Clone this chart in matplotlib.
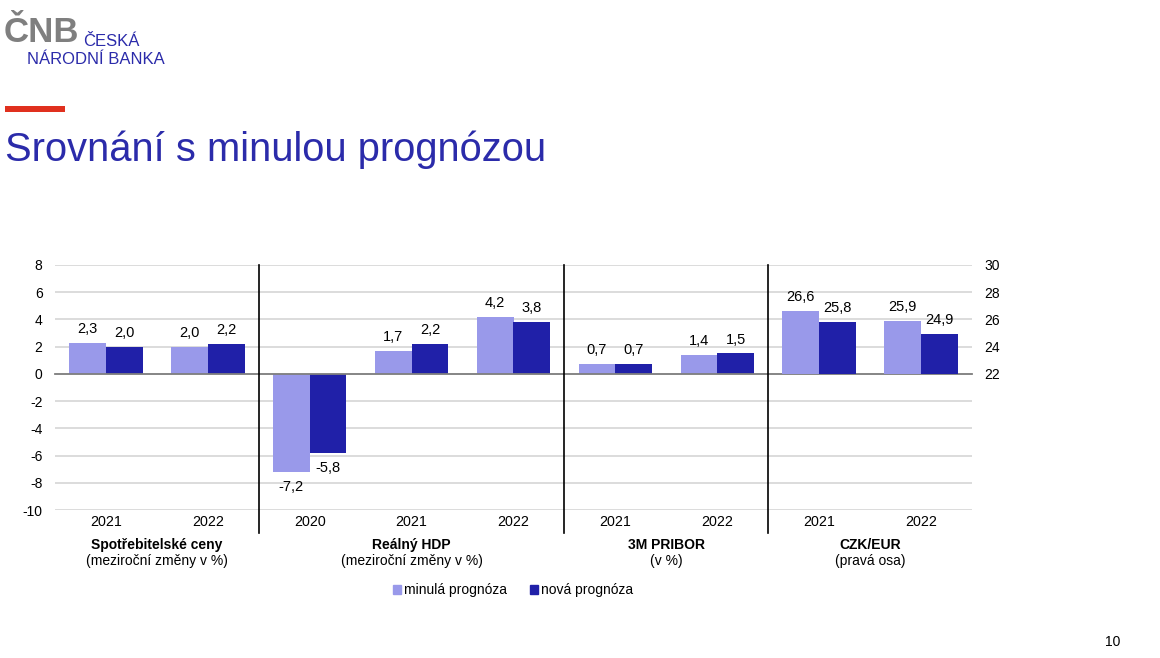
import matplotlib
matplotlib.use("Agg")
import matplotlib.pyplot as plt
import matplotlib.transforms as mtransforms
import numpy as np

plt.rcParams['font.family'] = ['Liberation Sans', 'DejaVu Sans']
plt.rcParams['axes.unicode_minus'] = False

# ---- data ----
years = ['2021', '2022', '2020', '2021', '2022', '2021', '2022', '2021', '2022']
group_of = [0, 0, 1, 1, 1, 2, 2, 3, 3]
group_names = ['Spotřebitelské ceny', 'Reálný HDP', '3M PRIBOR', 'CZK/EUR']
group_units = ['(meziroční změny v %)', '(meziroční změny v %)', '(v %)', '(pravá osa)']
minula = [2.3, 2.0, -7.2, 1.7, 4.2, 0.7, 1.4, 26.6, 25.9]
nova = [2.0, 2.2, -5.8, 2.2, 3.8, 0.7, 1.5, 25.8, 24.9]
on_right = [False, False, False, False, False, False, False, True, True]
right_base = 22
left_ticks = [-10, -8, -6, -4, -2, 0, 2, 4, 6, 8]
right_ticks = [22, 24, 26, 28, 30]
series_names = ['minulá prognóza', 'nová prognóza']

LIGHT = '#9999EA'
DARK = '#2020A8'
BLUE_TXT = '#2B2BAA'

fig = plt.figure(figsize=(11.6, 6.58), dpi=100)
fig.patch.set_facecolor('white')

# ---- header ----
fig.text(4 / 1160, 1 - 33 / 658, 'ČNB', fontsize=25, color='#7F7F7F', fontweight='bold',
         va='center', ha='left')
fig.text(83 / 1160, 1 - 42 / 658, 'ČESKÁ', fontsize=12, color=BLUE_TXT, va='center', ha='left')
fig.text(27 / 1160, 1 - 60 / 658, 'NÁRODNÍ BANKA', fontsize=12, color=BLUE_TXT, va='center', ha='left')
fig.patches.append(plt.Rectangle((5 / 1160, 1 - 112 / 658), 60 / 1160, 6 / 658,
                                 transform=fig.transFigure, color='#E0301E', lw=0))
fig.text(5 / 1160, 1 - 150 / 658, 'Srovnání s minulou prognózou', fontsize=28.7,
         color=BLUE_TXT, va='center', ha='left')
fig.text(1113 / 1160, 1 - 642 / 658, '10', fontsize=10, color='black', va='center', ha='center')

# ---- axes ----
ax = fig.add_axes([55 / 1160, 1 - 510 / 658, 917 / 1160, 245 / 658])
ax2 = ax.twinx()
n = len(years)
x = np.arange(n)
w = 0.36

ax.set_xlim(-0.5, n - 0.5)
ax.set_ylim(left_ticks[0], left_ticks[-1])
shift = right_base - 0
ax2.set_ylim(left_ticks[0] + shift, left_ticks[-1] + shift)

for a in (ax, ax2):
    for s in a.spines.values():
        s.set_visible(False)

ax.set_yticks(left_ticks)
ax.set_yticklabels([str(t) for t in left_ticks])
ax.tick_params(axis='y', length=0, pad=9, labelsize=10)
ax.yaxis.grid(True, color='#D9D9D9', lw=1.3)
ax.set_axisbelow(True)

ax2.set_yticks(right_ticks)
ax2.set_yticklabels([str(t) for t in right_ticks])
ax2.tick_params(axis='y', length=0, pad=9, labelsize=10)

ax.spines['bottom'].set_visible(True)
ax.spines['bottom'].set_position(('data', 0))
ax.spines['bottom'].set_color('#7F7F7F')
ax.spines['bottom'].set_linewidth(1.3)
ax.spines['bottom'].set_zorder(5)
ax.set_xticks(np.arange(n + 1) - 0.5)
ax.set_xticklabels([])
ax.tick_params(axis='x', direction='out', length=4, width=1.3, color='#7F7F7F')
ax2.set_xticks([])


def fmt(v):
    return f'{v:.1f}'.replace('.', ',')


for i in range(n):
    target = ax2 if on_right[i] else ax
    base = right_base if on_right[i] else 0
    for val, off, col in ((minula[i], -w / 2, LIGHT), (nova[i], w / 2, DARK)):
        target.bar(x[i] + off, val - base, width=w, bottom=base, color=col, lw=0, zorder=3)
        if val - base >= 0:
            target.annotate(fmt(val), (x[i] + off, val), xytext=(0, 5), textcoords='offset points',
                            ha='center', va='bottom', fontsize=10.5)
        else:
            target.annotate(fmt(val), (x[i] + off, val), xytext=(0, -6), textcoords='offset points',
                            ha='center', va='top', fontsize=10.5)

trans = mtransforms.blended_transform_factory(ax.transData, ax.transAxes)
# group separators
for i in range(1, n):
    if group_of[i] != group_of[i - 1]:
        ax.plot([i - 0.5, i - 0.5], [1, -23 / 245], transform=trans, color='black',
                lw=1.2, clip_on=False, zorder=6)

for i in range(n):
    ax.text(x[i], -12 / 245, years[i], transform=trans, ha='center', va='center', fontsize=10.3)

for g, (name, unit) in enumerate(zip(group_names, group_units)):
    members = [i for i in range(n) if group_of[i] == g]
    c = (members[0] + members[-1]) / 2
    ax.text(c, -35 / 245, name, transform=trans, ha='center', va='center', fontsize=10, fontweight='bold')
    ax.text(c, -51 / 245, unit, transform=trans, ha='center', va='center', fontsize=10)

handles = [plt.Rectangle((0, 0), 1, 1, color=LIGHT), plt.Rectangle((0, 0), 1, 1, color=DARK)]
fig.legend(handles, series_names, loc='center', bbox_to_anchor=(513 / 1160, 1 - 590 / 658),
           ncol=2, frameon=False, fontsize=10, handlelength=0.6, handleheight=0.6,
           handletextpad=0.25, columnspacing=1.6)

fig.savefig('out.png', dpi=100, facecolor='white')
